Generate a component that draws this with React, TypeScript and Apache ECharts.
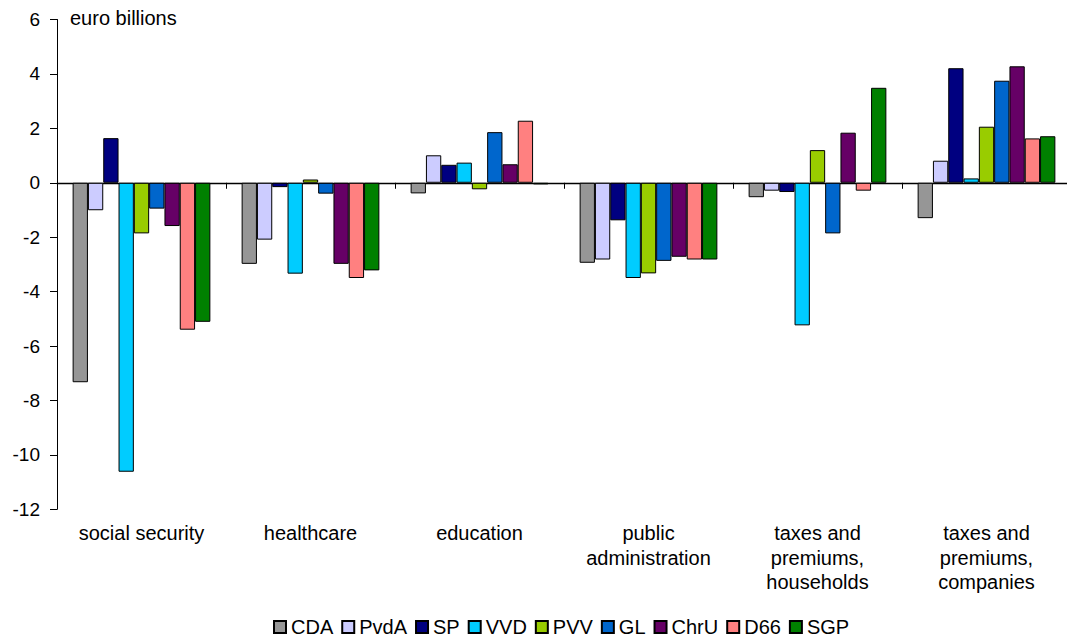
import React, { useEffect, useRef } from "react";
import * as echarts from "echarts";

const categories = [
  "social security",
  "healthcare",
  "education",
  "public\nadministration",
  "taxes and\npremiums,\nhouseholds",
  "taxes and\npremiums,\ncompanies",
];

const parties = ["CDA", "PvdA", "SP", "VVD", "PVV", "GL", "ChrU", "D66", "SGP"];
const colors = ["#969696", "#CCCCFF", "#000080", "#00CCFF", "#99CC00", "#0066CC", "#660066", "#FF8080", "#008000"];

const CDA = [-7.33, -2.98, -0.39, -2.94, -0.53, -1.3];
const PvdA = [-1.01, -2.09, 1.01, -2.82, -0.29, 0.81];
const SP = [1.64, -0.16, 0.66, -1.38, -0.34, 4.21];
const VVD = [-10.62, -3.34, 0.74, -3.5, -5.24, 0.16];
const PVV = [-1.86, 0.12, -0.24, -3.33, 1.2, 2.06];
const GL = [-0.95, -0.4, 1.86, -2.87, -1.86, 3.75];
const ChrU = [-1.59, -2.98, 0.68, -2.72, 1.84, 4.28];
const D66 = [-5.4, -3.5, 2.28, -2.82, -0.29, 1.63];
const SGP = [-5.11, -3.22, -0.06, -2.82, 3.49, 1.71];

const seriesValues = [CDA, PvdA, SP, VVD, PVV, GL, ChrU, D66, SGP];
const yTicks = { min: -12, max: 6, interval: 2 };
const unitLabel = "euro billions";

const FONT = "Liberation Sans, Arial, Helvetica, sans-serif";

export default function App() {
  const ref = useRef<HTMLDivElement>(null);
  useEffect(() => {
    if (!ref.current) return;
    const chart = echarts.init(ref.current, undefined, { renderer: "svg" });
    chart.setOption({
      animation: false,
      backgroundColor: "#fff",
      textStyle: { fontFamily: FONT },
      grid: { left: 57, right: 4, top: 19.5, bottom: 134.7 },
      graphic: [
        {
          type: "text",
          left: 70,
          top: 8,
          style: { text: unitLabel, fontSize: 20, fontFamily: FONT, fill: "#000" },
        },
      ],
      legend: {
        bottom: 2,
        left: 268,
        itemWidth: 12,
        itemHeight: 12,
        itemGap: 8,
        icon: "rect",
        textStyle: { fontSize: 20, color: "#000", fontFamily: FONT, padding: [0, 0, 0, 0] },
        data: parties,
      },
      xAxis: [
        {
          type: "category",
          data: categories,
          position: "bottom",
          axisLine: { show: false, onZero: false },
          axisTick: { show: false },
          axisLabel: {
            fontSize: 20,
            color: "#000",
            fontFamily: FONT,
            lineHeight: 24.5,
            margin: 11.5,
            interval: 0,
          },
        },
        {
          type: "category",
          data: categories,
          position: "top",
          axisLine: { show: true, onZero: true, lineStyle: { color: "#000", width: 1.3 } },
          axisTick: { show: true, inside: true, length: 6, lineStyle: { color: "#000" } },
          axisLabel: { show: false },
        },
      ],
      yAxis: {
        type: "value",
        min: yTicks.min,
        max: yTicks.max,
        interval: yTicks.interval,
        splitLine: { show: false },
        axisLine: { show: true, onZero: false, lineStyle: { color: "#000", width: 1 } },
        axisTick: { show: true, length: 7, lineStyle: { color: "#000" } },
        axisLabel: { fontSize: 19, color: "#000", fontFamily: FONT, margin: 17 },
      },
      series: parties.map((p, i) => ({
        name: p,
        type: "bar",
        data: seriesValues[i],
        barGap: "0%",
        barCategoryGap: "18.5%",
        itemStyle: { color: colors[i], borderColor: "#000", borderWidth: 1 },
      })),
    });
    return () => chart.dispose();
  }, []);
  return (
    <div
      ref={ref}
      style={{ position: "fixed", left: 0, top: 0, width: 1075, height: 644 }}
    />
  );
}
